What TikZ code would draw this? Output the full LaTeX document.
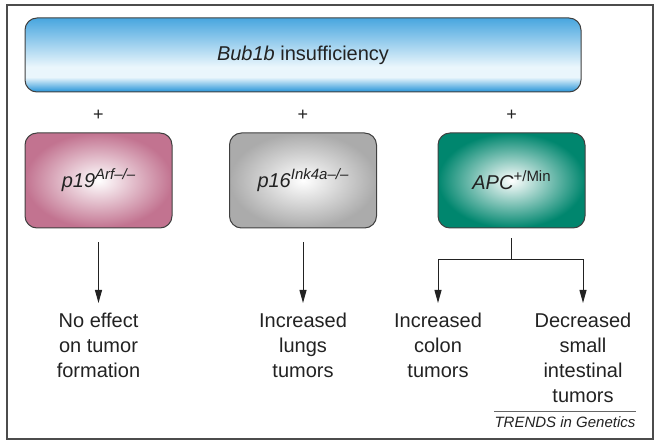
\documentclass[tikz,border=0pt]{standalone}
\usepackage{fontspec}
\setmainfont{Liberation Sans}
\usetikzlibrary{arrows.meta}
\definecolor{barblue}{HTML}{2493D8}
\definecolor{bartop}{HTML}{48A6DF}
\definecolor{barlight}{HTML}{EAF6FC}
\definecolor{arfpink}{HTML}{C27390}
\definecolor{inkgray}{HTML}{ABABAB}
\definecolor{apcteal}{HTML}{00866E}
\definecolor{ink}{HTML}{222222}
\pgfdeclareverticalshading{barshade}{100bp}{color(0bp)=(barblue); color(25bp)=(barblue); color(35bp)=(barlight); color(42bp)=(barlight); color(75bp)=(bartop); color(100bp)=(bartop)}
\newcommand{\geno}[2]{#1\raisebox{8pt}{\fontsize{15}{15}\selectfont #2}}
\begin{document}
\begin{tikzpicture}[x=1pt,y=-1pt,
    gene/.style={draw=black!75,line width=1pt,rounded corners=12pt,
      minimum width=147pt,minimum height=95pt,text=ink,
      font=\fontsize{20}{24}\selectfont},
    result/.style={align=center,anchor=north,inner sep=0pt,text=ink,
      font=\fontsize{20}{25}\selectfont},
    plus/.style={text=ink,font=\fontsize{18}{18}\selectfont},
    arr/.style={-{Triangle[width=7pt,length=13pt]},line width=1pt,draw=ink}]
  \useasboundingbox (0,0) rectangle (661,446);
  \draw[black!70,line width=1.5pt] (7,5) rectangle (653,439);
  \node[draw=black!75,line width=1pt,rounded corners=12pt,shade,shading=barshade,
    minimum width=556pt,minimum height=74pt,text=ink,
    font=\fontsize{20}{24}\selectfont] (bub) at (303,55) {\textit{Bub1b} insufficiency};
  \node[plus] (plusA) at (98.5,115) {+};
  \node[plus] (plusB) at (303,115) {+};
  \node[plus] (plusC) at (511.5,115) {+};
  \node[gene,inner color=white,outer color=arfpink] (p19) at (98.5,180.5)
    {\geno{\textit{p19}}{\textit{Arf–/–}}};
  \node[gene,inner color=white,outer color=inkgray] (p16) at (303,180.5)
    {\geno{\textit{p16}}{\textit{Ink4a–/–}}};
  \node[gene,inner color=white,outer color=apcteal] (apc) at (511.5,180.5)
    {\geno{\textit{APC}}{+/Min}};
  \node[result] (noeffect) at (98.5,313) {No effect\\on tumor\\formation};
  \node[result] (lungs) at (303,313) {Increased\\lungs\\tumors};
  \node[result] (colon) at (438,313) {Increased\\colon\\tumors};
  \node[result] (small) at (583,313) {Decreased\\small\\intestinal\\tumors};
  \coordinate (split) at (511.5,260);
  \node[text=ink,inner xsep=0pt,inner ysep=5pt,
    font=\fontsize{15}{15}\selectfont\itshape] (trends) at (565,422) {TRENDS in Genetics};
  \draw[black!60,line width=0.6pt] (trends.north west) -- (trends.north east);
  \begin{scope}[arr]
    \draw[shorten <=14pt,shorten >=10pt] (p19.south) -- (noeffect.north);
    \draw[shorten <=14pt,shorten >=10pt] (p16.south) -- (lungs.north);
    \draw[-,shorten <=10pt] (apc.south) -- (split);
    \draw[shorten >=10pt] (split) -| (colon.north);
    \draw[shorten >=10pt] (split) -| (small.north);
  \end{scope}
\end{tikzpicture}
\end{document}
